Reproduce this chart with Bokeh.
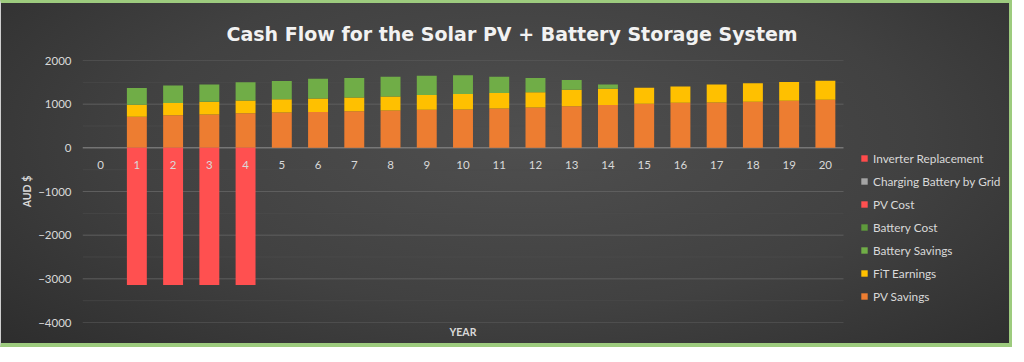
from bokeh.plotting import figure
from bokeh.models import Range1d, FixedTicker, Legend, LegendItem, ColumnDataSource, Title
from bokeh.embed import file_html
from bokeh.resources import INLINE

# ---- data ----
years = [0, 1, 2, 3, 4, 5, 6, 7, 8, 9, 10, 11, 12, 13, 14, 15, 16, 17, 18, 19, 20]
pv_savings = [0, 711, 745, 765, 790, 810, 820, 835, 855, 870, 880, 900, 925, 955, 980, 1010, 1030, 1040, 1055, 1080, 1100]
fit_earnings = [0, 275, 280, 290, 295, 300, 310, 320, 320, 340, 350, 355, 350, 375, 375, 365, 375, 410, 425, 425, 435]
battery_savings = [0, 383, 405, 395, 415, 420, 450, 445, 455, 440, 430, 375, 325, 225, 95, 0, 0, 0, 0, 0, 0]
battery_cost = [0, 0, 0, 0, 0, 0, 0, 0, 0, 0, 0, 0, 0, 0, 0, 0, 0, 0, 0, 0, 0]
pv_cost = [0, -3140, -3140, -3140, -3140, 0, 0, 0, 0, 0, 0, 0, 0, 0, 0, 0, 0, 0, 0, 0, 0]
charging_grid = [0, 0, 0, 0, 0, 0, 0, 0, 0, 0, 0, 0, 0, 0, 0, 0, 0, 0, 0, 0, 0]
inverter_replacement = [0, 0, 0, 0, 0, 0, 0, 0, 0, 0, 0, 0, 0, 0, 0, 0, 0, 0, 0, 0, 0]

y_ticks = [-4000, -3000, -2000, -1000, 0, 1000, 2000]
y_minor = [-3500, -2500, -1500, -500, 500, 1500]
x_ticks = years

title_text = "Cash Flow for the Solar PV + Battery Storage System"

source = ColumnDataSource(dict(
    year=years, pv_savings=pv_savings, fit_earnings=fit_earnings,
    battery_savings=battery_savings, battery_cost=battery_cost, pv_cost=pv_cost,
    charging_grid=charging_grid, inverter_replacement=inverter_replacement,
))

TXT = "#d9d9d9"
FONT = "Lato"

# layout: category axis occupies the left 761px of the frame, legend the rest
W, H = 1012, 347
LEFT, RIGHT, TOP, BOTTOM = 81, 3, 57, 28
frame_w = W - LEFT - RIGHT
axis_w = 761.0
x0 = years[0] - 0.5
x1 = years[-1] + 0.5
x_end = x0 + (x1 - x0) * frame_w / axis_w

p = figure(width=W, height=H, output_backend="svg", toolbar_location=None,
           x_range=Range1d(x0, x_end), y_range=Range1d(y_ticks[0], y_ticks[-1]),
           min_border_left=LEFT, min_border_right=RIGHT, min_border_top=TOP, min_border_bottom=BOTTOM)

p.border_fill_alpha = 0
p.background_fill_alpha = 0
p.outline_line_color = None
p.styles = {
    "background": "radial-gradient(ellipse 70% 90% at 52% 40%, #4f4f4f 0%, #414141 55%, #2d2d2d 100%)",
    "border-top": "3px solid #9dcb7e",
    "border-right": "3px solid #9dcb7e",
    "border-bottom": "4px solid #9dcb7e",
    "border-left": "1px solid #cfcfcf",
}

# title
p.title.text = title_text
p.title.align = "left"
p.title.offset = 144
p.title.text_color = "#f2f2f2"
p.title.text_font = "DejaVu Sans"
p.title.text_font_size = "19px"
p.title.text_font_style = "bold"
p.title.standoff = 32

# grid lines limited to the category area
p.xgrid.grid_line_color = None
p.ygrid.grid_line_color = None
p.segment(x0=[x0] * len(y_minor), x1=[x1] * len(y_minor), y0=y_minor, y1=y_minor,
          line_color="#4c4c4c", line_alpha=0.6, line_width=1)
grid_colors = ["#8f8f8f" if t == 0 else "#5e5e5e" for t in y_ticks]
p.segment(x0=[x0] * len(y_ticks), x1=[x1] * len(y_ticks), y0=y_ticks, y1=y_ticks,
          line_color=grid_colors, line_width=1)

# positive stack
pos_names = ["pv_savings", "fit_earnings", "battery_savings"]
pos_colors = ["#ED7D31", "#FFC000", "#70AD47"]
pos = p.vbar_stack(pos_names, x="year", width=0.55, source=source, color=pos_colors, line_color=None)

# negative stack
neg_names = ["battery_cost", "pv_cost", "charging_grid", "inverter_replacement"]
neg_colors = ["#5E9A3C", "#FF5050", "#A5A5A5", "#FF4B4B"]
neg = p.vbar_stack(neg_names, x="year", width=0.55, source=source, color=neg_colors, line_color=None)

# x axis at zero
p.xaxis.fixed_location = 0
p.xaxis.ticker = FixedTicker(ticks=x_ticks)
p.xaxis.axis_line_color = None
p.xaxis.major_tick_line_color = None
p.xaxis.minor_tick_line_color = None
p.xaxis.major_label_text_color = TXT
p.xaxis.major_label_text_font = FONT
p.xaxis.major_label_text_font_size = "11.5px"
p.xaxis.major_label_standoff = 7

# "YEAR" label below the category area
year_title = Title(text="YEAR", align="left", offset=367, text_color=TXT, text_font=FONT,
                   text_font_size="10.5px", text_font_style="bold", standoff=2)
p.add_layout(year_title, "below")

p.yaxis.ticker = FixedTicker(ticks=y_ticks)
p.yaxis.axis_line_color = None
p.yaxis.major_tick_line_color = None
p.yaxis.minor_tick_line_color = None
p.yaxis.major_label_text_color = TXT
p.yaxis.major_label_text_font = FONT
p.yaxis.major_label_text_font_size = "11.5px"
p.yaxis.major_label_standoff = 5
p.yaxis.axis_label = "AUD $"
p.yaxis.axis_label_text_color = TXT
p.yaxis.axis_label_text_font = FONT
p.yaxis.axis_label_text_font_size = "10.5px"
p.yaxis.axis_label_text_font_style = "bold"
p.yaxis.axis_label_standoff = 2

# legend (order as in reference), right of the category area
items = [
    LegendItem(label="Inverter Replacement", renderers=[neg[3]]),
    LegendItem(label="Charging Battery by Grid", renderers=[neg[2]]),
    LegendItem(label="PV Cost", renderers=[neg[1]]),
    LegendItem(label="Battery Cost", renderers=[neg[0]]),
    LegendItem(label="Battery Savings", renderers=[pos[2]]),
    LegendItem(label="FiT Earnings", renderers=[pos[1]]),
    LegendItem(label="PV Savings", renderers=[pos[0]]),
]
legend = Legend(items=items, location=(778, 16), background_fill_alpha=0, border_line_color=None,
                label_text_color=TXT, label_text_font=FONT, label_text_font_size="11.8px",
                glyph_width=8, glyph_height=8, label_standoff=5, label_height=20, spacing=3,
                padding=10, margin=0)
p.add_layout(legend)

open("out.html", "w").write(file_html(p, INLINE))
